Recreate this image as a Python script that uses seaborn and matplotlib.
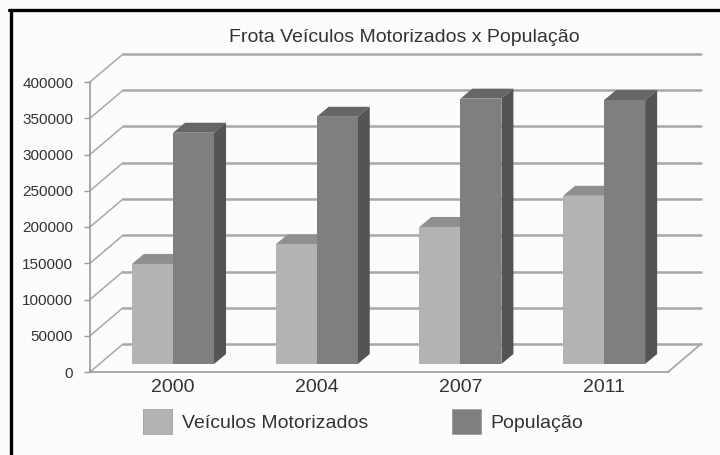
import numpy as np
import pandas as pd
import seaborn as sns
import matplotlib
matplotlib.use("Agg")
import matplotlib.pyplot as plt
from matplotlib.patches import Polygon, Rectangle
from matplotlib.lines import Line2D

# ---- data ----
anos = ["2000", "2004", "2007", "2011"]
series = ["Veículos Motorizados", "População"]
veiculos = [138000, 165000, 189000, 232000]
populacao = [319000, 341000, 366000, 364000]
yticks = [0, 50000, 100000, 150000, 200000, 250000, 300000, 350000, 400000]
titulo = "Frota Veículos Motorizados x População"

# ---- style ----
sns.set_theme(style="white")
plt.rcParams["font.family"] = ["Liberation Sans", "DejaVu Sans"]
c_veic = "#b3b3b3"
c_pop = "#7f7f7f"
c_grid = "#a8a8a8"
c_text = "#333333"

W, H = 720, 455
fig = plt.figure(figsize=(7.2, 4.55), dpi=100)
fig.patch.set_facecolor("#fcfcfc")

# layout in pixels
ax_left, ax_right, ax_bottom, ax_top = 90, 668, 372, 82
g0_px = 173          # pixel of first category centre
base_px = 364        # pixel of bar base (value 0 on the bar plane)
PX_X = 1 / 143.7     # category units per pixel
PX_Y = 50000 / 36.25 # value units per pixel
wall_dx, wall_dy = 33, 28   # depth of walls in pixels
bar_dx, bar_dy = 12, 10     # depth of bars in pixels

ax = fig.add_axes([ax_left / W, 1 - ax_bottom / H,
                   (ax_right - ax_left) / W, (ax_bottom - ax_top) / H])
ax.set_facecolor("none")

df = pd.DataFrame({
    "Ano": anos * 2,
    "Valor": veiculos + populacao,
    "Série": [series[0]] * len(anos) + [series[1]] * len(anos),
})
sns.barplot(data=df, x="Ano", y="Valor", hue="Série", hue_order=series,
            palette=[c_veic, c_pop], width=0.571, saturation=1,
            errorbar=None, legend=False, ax=ax, zorder=3, edgecolor="none",
            linewidth=0)

ax.set_xlim((ax_left - g0_px) * PX_X, (ax_right - g0_px) * PX_X)
ax.set_ylim(-(ax_bottom - base_px) * PX_Y, (base_px - ax_top) * PX_Y)


def P(xp, yp):
    return ((xp - g0_px) * PX_X, (base_px - yp) * PX_Y)


# ---- walls / gridlines ----
for t in yticks:
    yf = ax_bottom - t / PX_Y
    yb = yf - wall_dy
    # left wall diagonal
    (x1, y1), (x2, y2) = P(ax_left, yf), P(ax_left + wall_dx, yb)
    ax.plot([x1, x2], [y1, y2], color=c_grid, lw=1.1, clip_on=False, zorder=1)
    # back wall gridline
    (x3, y3) = P(ax_right + wall_dx, yb)
    ax.plot([x2, x3], [y2, y3], color=c_grid, lw=1.8, clip_on=False, zorder=1)

# floor right edge
(fx1, fy1), (fx2, fy2) = P(ax_right, ax_bottom), P(ax_right + wall_dx, ax_bottom - wall_dy)
ax.plot([fx1, fx2], [fy1, fy2], color=c_grid, lw=1.3, clip_on=False, zorder=1)


# ---- 3D faces of bars ----
def shade(c, f):
    r, g, b, a = matplotlib.colors.to_rgba(c)
    return (r * f, g * f, b * f, 1)


bdx, bdy = bar_dx * PX_X, bar_dy * PX_Y
for p in list(ax.patches):
    x0, w, h = p.get_x(), p.get_width(), p.get_height()
    fc = p.get_facecolor()
    top = Polygon([(x0, h), (x0 + w, h), (x0 + w + bdx, h + bdy), (x0 + bdx, h + bdy)],
                  closed=True, fc=shade(fc, 0.8), ec="none", zorder=2, clip_on=False)
    side = Polygon([(x0 + w, 0), (x0 + w + bdx, bdy), (x0 + w + bdx, h + bdy), (x0 + w, h)],
                   closed=True, fc=shade(fc, 0.66), ec="none", zorder=2, clip_on=False)
    ax.add_patch(top)
    ax.add_patch(side)
    p.set_clip_on(False)

# ---- axes styling ----
ax.set_yticks([t - (ax_bottom - base_px) * PX_Y for t in yticks],
              labels=[str(t) for t in yticks])
ax.tick_params(axis="y", length=4, width=1, color="#999999", labelsize=11,
               labelcolor=c_text, pad=8, left=True)
ax.tick_params(axis="x", length=0, labelsize=14, labelcolor=c_text, pad=5)
ax.set_xlabel("")
ax.set_ylabel("")
for s in ["top", "right"]:
    ax.spines[s].set_visible(False)
for s in ["left", "bottom"]:
    ax.spines[s].set_color("#9a9a9a")
    ax.spines[s].set_linewidth(1.2)

# ---- title ----
fig.text(404 / W, 1 - 42 / H, titulo, ha="center", va="baseline",
         fontsize=14, color=c_text)

# ---- legend ----
handles = [Rectangle((0, 0), 1, 1, fc=c, ec="#a0a0a0", lw=0.6) for c in [c_veic, c_pop]]
fig.legend(handles, series, ncol=2, frameon=False, loc="upper left",
           bbox_to_anchor=(143 / W, 1 - 409 / H), bbox_transform=fig.transFigure,
           fontsize=14, handlelength=1.5, handleheight=1.6, handletextpad=0.5,
           columnspacing=4.3, borderaxespad=0, borderpad=0, labelcolor=c_text)

# ---- frame lines (cropped border) ----
fig.add_artist(Line2D([9 / W, 1], [1 - 10 / H, 1 - 10 / H], color="black", lw=2.4,
                      transform=fig.transFigure))
fig.add_artist(Line2D([10.5 / W, 10.5 / W], [0, 1 - 10 / H], color="black", lw=2.4,
                      transform=fig.transFigure))

fig.savefig("out.png", dpi=100, facecolor=fig.get_facecolor())
